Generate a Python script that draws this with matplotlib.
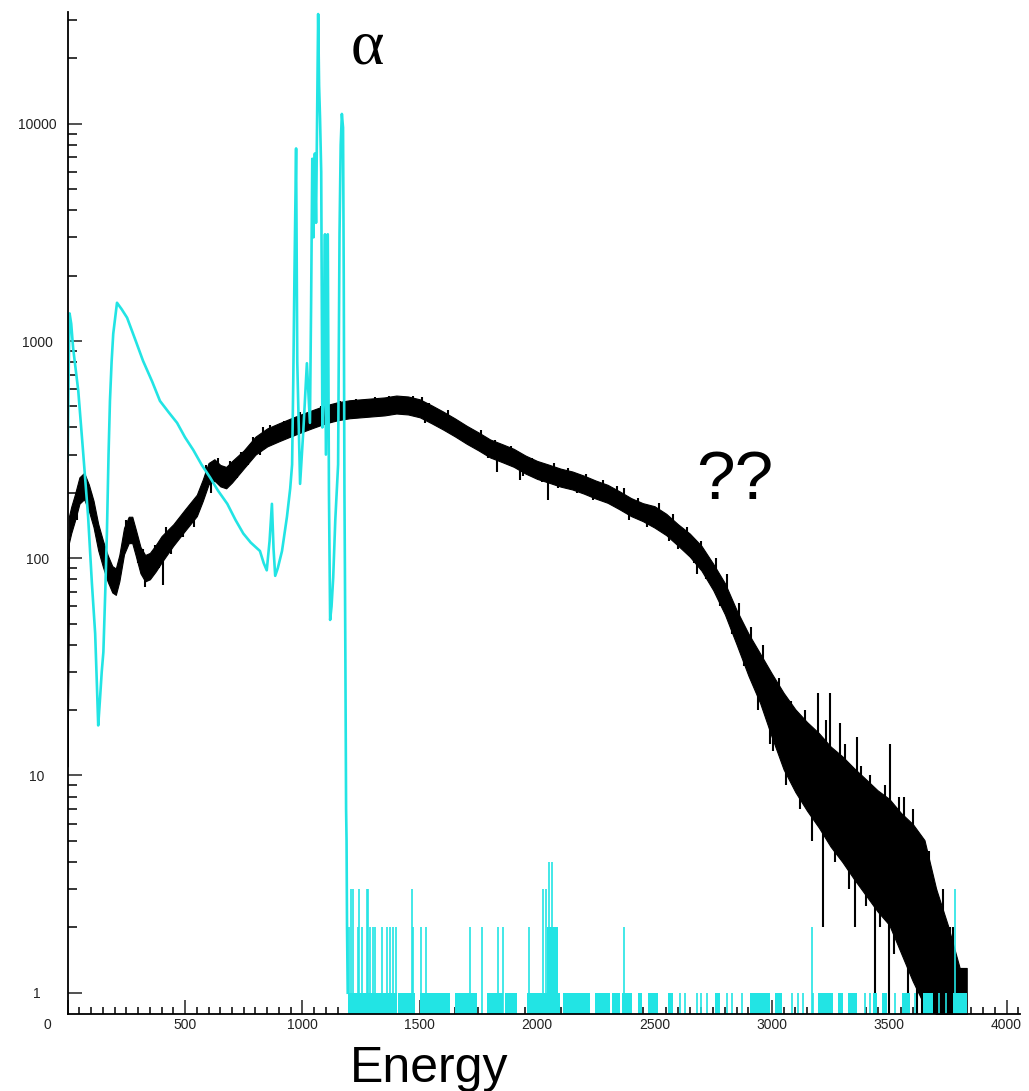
import matplotlib.pyplot as plt
import numpy as np

# black spectrum ("??"), counts
black_energy = [0, 5, 15, 30, 50, 70, 90, 110, 130, 150, 170, 190, 205, 220, 240, 260, 275, 290, 310, 330,
                350, 375, 400, 450, 500, 550, 575, 600, 625, 650, 675, 700,
                750, 800, 850, 900, 950, 1000, 1050, 1100, 1150, 1200,
                1250, 1300, 1350, 1400, 1450, 1500, 1550, 1600, 1650, 1700,
                1750, 1800, 1850, 1900, 1950, 2000, 2050, 2100, 2150, 2200,
                2250, 2300, 2350, 2400, 2450, 2500, 2550, 2600, 2650, 2700,
                2750, 2800, 2850, 2900, 2950, 3000, 3050, 3100, 3150, 3200,
                3250, 3300, 3350, 3400, 3450, 3500, 3550, 3600, 3650, 3700,
                3750, 3800, 3830]
black_counts = [11, 135, 150, 170, 205, 215, 190, 160, 125, 105, 90, 80, 78, 90, 120, 135, 135, 118, 98, 90,
                92, 100, 110, 128, 150, 175, 205, 245, 255, 240, 235, 250,
                285, 330, 360, 380, 400, 420, 440, 460, 475, 485,
                490, 495, 500, 510, 505, 490, 460, 430, 400, 370,
                345, 320, 305, 290, 270, 255, 245, 235, 228, 218,
                207, 198, 185, 172, 163, 155, 143, 128, 115, 100,
                82, 65, 48, 36, 28, 21, 16, 13, 11, 9.5,
                8, 7, 6, 5.2, 4.5, 4.0, 3.2, 2.6, 2.1, 1.5,
                1.2, 1.0, 1.0]
# width of the noisy band (factor up / down around the counts)
black_spread = [1.0, 1.15, 1.15, 1.15, 1.15, 1.15, 1.15, 1.15, 1.15, 1.15, 1.15, 1.15, 1.15, 1.15, 1.15, 1.15, 1.15, 1.15, 1.15, 1.15,
                1.15, 1.15, 1.15, 1.12, 1.12, 1.12, 1.12, 1.12, 1.12, 1.12, 1.12, 1.12,
                1.1, 1.1, 1.1, 1.1, 1.1, 1.1, 1.1, 1.1, 1.1, 1.1,
                1.1, 1.1, 1.1, 1.1, 1.1, 1.1, 1.1, 1.1, 1.1, 1.1,
                1.1, 1.1, 1.1, 1.1, 1.1, 1.1, 1.1, 1.1, 1.1, 1.1,
                1.1, 1.1, 1.1, 1.1, 1.1, 1.12, 1.12, 1.12, 1.13, 1.14,
                1.15, 1.18, 1.2, 1.25, 1.3, 1.4, 1.5, 1.55, 1.6, 1.65,
                1.7, 1.75, 1.8, 1.85, 1.9, 1.95, 2.1, 2.3, 2.4, 2.0,
                1.7, 1.3, 1.3]
# single channels that stick out of the band
black_spike_energy = [40, 60, 75, 100, 120, 160, 180, 193, 230, 250, 300, 320, 330, 345, 370, 390, 407, 420, 440, 470,
                      490, 520, 540, 590, 610, 640, 660, 690, 720, 740, 770, 790, 820, 832, 860, 880, 920, 960, 990, 1020,
                      1046, 1080, 1120, 1160, 1190, 1230, 1270, 1310, 1340, 1370, 1387, 1420, 1430, 1470, 1490, 1509, 1523, 1540, 1570, 1620,
                      1660, 1690, 1720, 1760, 1790, 1820, 1830, 1870, 1890, 1927, 1940, 1980, 2020, 2047, 2070, 2090, 2130, 2170, 2210, 2240,
                      2280, 2320, 2340, 2370, 2390, 2430, 2470, 2520, 2560, 2580, 2600, 2620, 2640, 2670, 2680, 2700, 2720, 2760, 2780, 2810,
                      2830, 2860, 2880, 2910, 2940, 2960, 2990, 3006, 3030, 3060, 3080, 3120, 3140, 3170, 3197, 3219, 3230, 3249, 3270, 3291,
                      3310, 3330, 3356, 3362, 3380, 3400, 3420, 3440, 3460, 3480, 3500, 3505, 3520, 3540, 3563, 3580, 3590, 3600, 3620, 3630,
                      3640, 3660, 3670, 3680, 3690, 3700, 3720, 3730, 3740, 3760, 3770, 3790, 3810, 3830]
black_spike_counts = [150, 230, 240, 200, 130, 110, 75, 70, 100, 150, 95, 110, 74, 80, 115, 90, 75, 140, 105, 150,
                      125, 175, 140, 270, 200, 290, 215, 280, 235, 310, 270, 360, 300, 400, 410, 340, 430, 360, 470, 390,
                      465, 500, 420, 530, 440, 540, 450, 550, 450, 560, 555, 460, 540, 560, 450, 550, 420, 520, 410, 480,
                      360, 410, 330, 390, 290, 350, 250, 275, 330, 228, 240, 290, 225, 185, 275, 210, 260, 200, 245, 185,
                      230, 175, 215, 210, 150, 190, 140, 180, 120, 160, 110, 110, 140, 95, 85, 120, 80, 100, 60, 85,
                      45, 62, 32, 48, 20, 40, 14, 13, 28, 9, 22, 7, 20, 5, 24, 2.0, 18, 24, 4, 17.4,
                      14, 3, 2.0, 15, 11, 2.5, 10, 0.8, 2, 9, 0.8, 14, 1.5, 8, 8, 0.8, 6, 7, 0.8, 5,
                      0.8, 0.8, 4.5, 0.8, 0.8, 3, 0.8, 3, 0.8, 2, 2, 0.8, 0.8, 1]

# cyan spectrum (alpha source)
cyan_energy = [0, 4, 8, 15, 23, 45, 65, 87, 103, 117, 125, 130, 137, 145, 152, 160, 167, 174, 180, 187,
               194, 210, 230, 253, 290, 321, 360, 393, 430, 466, 500, 535, 570, 607, 640, 680, 715, 748, 780, 819,
               835, 848, 860, 870, 877, 884, 895, 913, 934, 948, 956, 961, 966, 973, 978, 990, 1004, 1019, 1032, 1037,
               1042, 1047, 1053, 1058, 1063, 1067, 1071, 1075, 1080, 1085, 1090, 1096, 1100, 1108, 1113,
               1118, 1124, 1131, 1140, 1152, 1158, 1163, 1168, 1173, 1176, 1179, 1181, 1183, 1186, 1188, 1190, 1193]
cyan_counts = [280, 700, 1340, 1200, 930, 590, 315, 155, 77, 45, 25, 17, 22, 30, 37, 70, 130, 300, 530, 800,
               1080, 1500, 1400, 1280, 1000, 810, 650, 530, 470, 420, 360, 315, 270, 235, 205, 178, 150, 130, 118, 108,
               95, 88, 120, 178, 110, 83, 90, 108, 155, 210, 270, 660, 2000, 7700, 800, 220, 390, 790, 420, 1500,
               6900, 3000, 7300, 3500, 12000, 32000, 15000, 10600, 6000, 400, 600, 3100, 300, 3100, 200,
               52, 60, 81, 150, 270, 3100, 8000, 11100, 9600, 2000, 200, 88, 34, 7, 5, 2, 1]
# cyan background above the alpha peak: runs of 1-count channels
cyan_block_start = [1195, 1408, 1502, 1650, 1787, 1864, 1957, 2043, 2111, 2247, 2319, 2362, 2430, 2473, 2558,
                    2758, 2907, 3014, 3197, 3282, 3325, 3432, 3470, 3555, 3645, 3773]
cyan_block_end = [1404, 1480, 1630, 1744, 1856, 1915, 2098, 2090, 2225, 2310, 2353, 2405, 2447, 2515, 2579,
                  2779, 2992, 3044, 3261, 3303, 3363, 3448, 3491, 3589, 3687, 3832]
cyan_block_height = [1, 1, 1, 1, 1, 1, 1, 2, 1, 1, 1, 1, 1, 1, 1,
                     1, 1, 1, 1, 1, 1, 1, 1, 1, 1, 1]
cyan_single_energy = [2610, 2630, 2681, 2700, 2725, 2809, 2830, 2873, 3085, 3110, 3134, 3175, 3395, 3420,
                      3526, 3610, 3710, 3740]
cyan_spike_energy = [1200, 1206, 1214, 1238, 1242, 1253, 1274, 1278, 1288, 1299, 1309, 1338, 1362, 1373, 1387,
                     1399, 1466, 1473, 1505, 1525, 1714, 1767, 1832, 1853, 1965, 2026, 2038, 2051, 2065, 2372,
                     3173, 3781]
cyan_spike_counts = [2, 3, 3, 2, 3, 2, 3, 3, 2, 2, 2, 2, 2, 2, 2,
                     2, 3, 2, 2, 2, 2, 2, 2, 2, 2, 3, 3, 4, 4, 2,
                     2, 3]

x_major = [0, 500, 1000, 1500, 2000, 2500, 3000, 3500, 4000]
x_labels = ['', '500', '1000', '1500', '2000', '2500', '3000', '3500', '4000']
y_major = [1, 10, 100, 1000, 10000]
y_labels = ['1', '10', '100', '1000', '10000']

ymin, ymax = 0.798, 32700
cyan = '#22e4e4'
label_font = 'Liberation Sans'

fig = plt.figure(figsize=(10.29, 10.91), dpi=100)
ax = fig.add_axes([67.7 / 1029, 77 / 1091, 952.3 / 1029, 1002 / 1091])
ax.set_yscale('log')
ax.set_xlim(0, 4057)
ax.set_ylim(ymin, ymax)

# black spectrum as a noisy band
lo = [max(c / s, ymin) for c, s in zip(black_counts, black_spread)]
hi = [c * s for c, s in zip(black_counts, black_spread)]
ax.fill_between(black_energy, lo, hi, color='black', lw=0.8, zorder=2)
base = np.interp(black_spike_energy, black_energy, black_counts)
ax.vlines(black_spike_energy, np.maximum(np.minimum(base, black_spike_counts), ymin),
          np.maximum(base, black_spike_counts), color='black', lw=1.5, zorder=2)

# cyan spectrum
ax.plot(cyan_energy, cyan_counts, color=cyan, lw=1.9, zorder=3)
for s, e, h in zip(cyan_block_start, cyan_block_end, cyan_block_height):
    ax.fill_between([s, e], ymin, h, color=cyan, lw=0, zorder=3)
ax.vlines(cyan_single_energy, ymin, 1, color=cyan, lw=1.2, zorder=3)
ax.vlines(cyan_spike_energy, ymin, cyan_spike_counts, color=cyan, lw=1.2, zorder=3)

# axes styling
for side in ['top', 'right']:
    ax.spines[side].set_visible(False)
for side in ['left', 'bottom']:
    ax.spines[side].set_linewidth(1.3)
    ax.spines[side].set_zorder(5)

ax.set_xticks(x_major)
ax.set_xticklabels(x_labels, family=label_font)
ax.set_xticks(range(0, 4051, 50), minor=True)
ax.set_yticks(y_major)
ax.set_yticklabels(y_labels, family=label_font)
ax.set_yticks([m * d for d in [1, 10, 100, 1000, 10000] for m in range(2, 10) if m * d <= ymax], minor=True)
ax.yaxis.set_minor_formatter(plt.NullFormatter())

ax.tick_params(axis='x', which='major', direction='in', length=10, width=1.1, pad=3,
               labelsize=10, colors='#222222', top=False)
ax.tick_params(axis='x', which='minor', direction='in', length=5, width=1.1, top=False)
ax.tick_params(axis='y', which='major', direction='in', length=10, width=1.1, pad=22,
               labelsize=10, colors='#222222', right=False)
ax.tick_params(axis='y', which='minor', direction='in', length=6.5, width=1.1, right=False)
plt.setp(ax.get_yticklabels(), ha='center')
for t in ax.xaxis.get_major_ticks() + ax.yaxis.get_major_ticks():
    t.tick1line.set_zorder(6)

fig.text(47 / 1029, 1 - 1025 / 1091, '0', fontsize=10, family=label_font, color='#222222',
         ha='center', va='center')

# annotations
fig.text(367 / 1029, 1 - 64 / 1091, '\u03b1', fontsize=46, family='Liberation Serif',
         ha='center', va='baseline')
fig.text(735 / 1029, 1 - 499 / 1091, '??', fontsize=50, family='Liberation Sans',
         ha='center', va='baseline')
fig.text(429 / 1029, 1 - 1082 / 1091, 'Energy', fontsize=36, family='Liberation Sans',
         ha='center', va='baseline')

fig.savefig('out.png', dpi=100)
